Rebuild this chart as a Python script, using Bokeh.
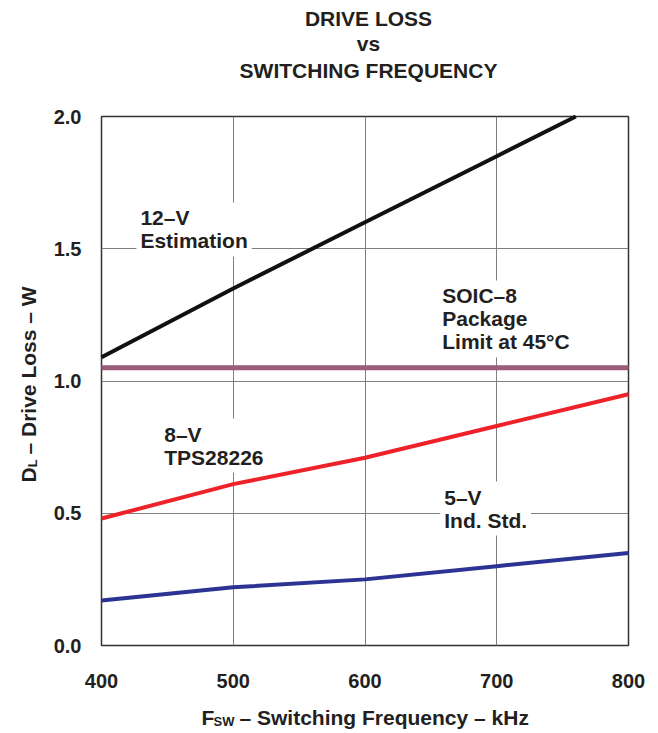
import math
from bokeh.plotting import figure
from bokeh.models import Label, FixedTicker
from bokeh.layouts import column, row
from bokeh.embed import file_html
from bokeh.resources import INLINE

# ---- data ----
freq = [400, 500, 600, 700, 800]
freq_12v = [400, 500, 600, 700, 760]
loss_12v = [1.09, 1.35, 1.60, 1.85, 2.00]
loss_8v = [0.48, 0.61, 0.71, 0.83, 0.95]
loss_5v = [0.17, 0.22, 0.25, 0.30, 0.35]
soic_freq = [400, 800]
soic_limit = [1.05, 1.05]
x_ticks = [400, 500, 600, 700, 800]
y_ticks = [0.0, 0.5, 1.0, 1.5, 2.0]

FONT = "Liberation Sans"
TXT = "#231f20"

# ---- main plot ----
p = figure(width=608, height=600, x_range=(400, 800), y_range=(0, 2),
           output_backend="svg", toolbar_location=None,
           min_border_left=49, min_border_right=30,
           min_border_top=16, min_border_bottom=55)

p.outline_line_color = "#333333"
p.outline_line_width = 1.5

for ax in (p.xaxis, p.yaxis):
    ax.axis_line_color = None
    ax.major_tick_line_color = None
    ax.minor_tick_line_color = None
    ax.major_tick_in = 0
    ax.major_tick_out = 0
    ax.major_label_text_font = FONT
    ax.major_label_text_font_style = "bold"
    ax.major_label_text_font_size = "20px"
    ax.major_label_text_color = TXT

p.xaxis.ticker = FixedTicker(ticks=x_ticks)
p.yaxis.ticker = FixedTicker(ticks=y_ticks)
p.xaxis.major_label_overrides = {v: str(v) for v in x_ticks}
p.yaxis.major_label_overrides = {v: f"{v:.1f}" for v in y_ticks}
p.xaxis.major_label_standoff = 28
p.yaxis.major_label_standoff = 20

p.grid.grid_line_color = "#7f7f7f"
p.grid.grid_line_width = 1

# ---- curves (drawn above the label boxes) ----
p.line(soic_freq, soic_limit, line_color="#9a5c7b", line_width=5, level="overlay")
p.line(freq_12v, loss_12v, line_color="#111111", line_width=4, level="overlay")
p.line(freq, loss_8v, line_color="#ee2229", line_width=4, level="overlay")
p.line(freq, loss_5v, line_color="#2b3393", line_width=4, level="overlay")

# ---- in-plot annotations (white boxes hide the grid) ----
def note(x, y, text):
    p.add_layout(Label(x=x, y=y, text=text, text_font=FONT,
                       text_font_style="bold", text_font_size="21px",
                       text_line_height=1.0,
                       text_color=TXT, text_align="left", text_baseline="top",
                       background_fill_color="white", padding=4))

note(426.5, 1.675, "12\u2013V\nEstimation")
note(655.6, 1.380, "SOIC\u20138\nPackage\nLimit at 45\u00b0C")
note(444.6, 0.858, "8\u2013V\nTPS28226")
note(657.1, 0.620, "5\u2013V\nInd. Std.")


# ---- helper canvases for title and axis titles ----
def blank(w, h, top=0, bottom=0):
    f = figure(width=w, height=h, x_range=(0, w), y_range=(0, h),
               output_backend="svg", toolbar_location=None,
               x_axis_location=None, y_axis_location=None,
               min_border=0, min_border_left=0, min_border_right=0,
               min_border_top=top, min_border_bottom=bottom)
    f.grid.visible = False
    f.outline_line_color = None
    return f


def txt(f, x, y, text, size="21px", align="left", baseline="alphabetic", angle=0.0):
    f.add_layout(Label(x=x, y=y, x_units="screen", y_units="screen", text=text,
                       text_font=FONT, text_font_style="bold", text_font_size=size,
                       text_color=TXT, text_align=align, text_baseline=baseline,
                       angle=angle))


# title block: page y 0..100 (screen y measured up from the bottom)
tf = blank(658, 100)
txt(tf, 368, 82, "DRIVE LOSS", align="center", baseline="middle")
txt(tf, 368, 57, "vs", align="center", baseline="middle")
txt(tf, 368, 30, "SWITCHING FREQUENCY", align="center", baseline="middle")

# y-axis title: same top/bottom borders as the main plot
yf = blank(50, 600, top=16, bottom=55)
txt(yf, 28, 163, "D", angle=math.pi / 2)
txt(yf, 32, 178.2, "L", size="13px", angle=math.pi / 2)
txt(yf, 28, 191, "\u2013 Drive Loss \u2013 W", angle=math.pi / 2)

# x-axis title
xf = blank(658, 33)
txt(xf, 201, 16, "F")
txt(xf, 213, 12, "SW", size="13px")
txt(xf, 239, 16, "\u2013 Switching Frequency \u2013 kHz")

layout = column(tf, row(yf, p), xf)
open("out.html", "w").write(file_html(layout, INLINE))
